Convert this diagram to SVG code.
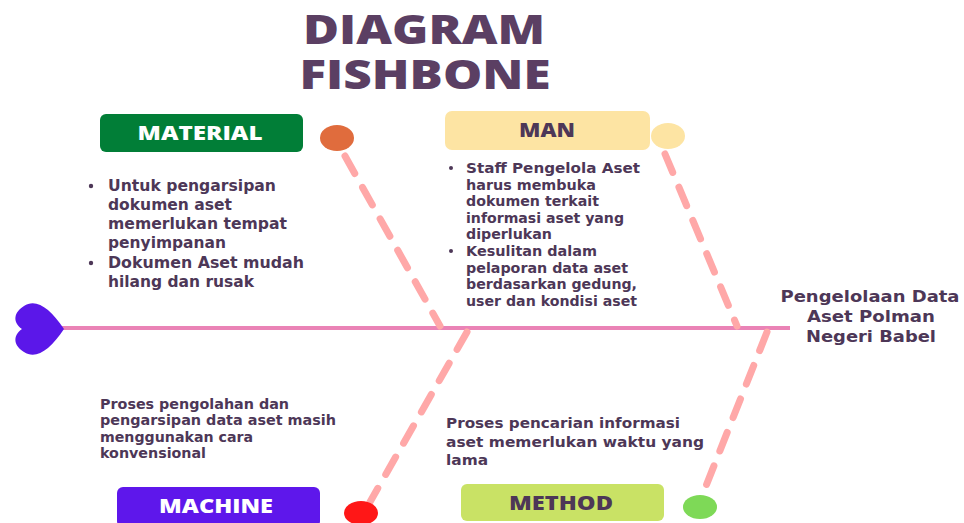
<svg xmlns="http://www.w3.org/2000/svg" width="964" height="523" viewBox="0 0 964 523">
  <style>
    text { }
    .title { font-family: "Open Sans", "DejaVu Sans", sans-serif; font-weight: 800; font-size: 41px; fill: #5b3f63; text-anchor: middle; }
    .label { font-family: "Open Sans", "DejaVu Sans", sans-serif; font-weight: 800; font-size: 19px; text-anchor: middle; }
    .body { font-family: "DejaVu Sans", "Open Sans", sans-serif; font-weight: 700; fill: #4d3757; }
    .head { font-family: "DejaVu Sans", "Open Sans", sans-serif; font-weight: 700; font-size: 15px; fill: #4d3757; text-anchor: middle; }
    .bone { fill: none; stroke: #ffa8a8; stroke-width: 7; stroke-linecap: round; stroke-dasharray: 20 16; }
    .spine { fill: none; stroke: #ea83b6; stroke-width: 4; }
    .dot { fill: #4d3757; }
  </style>

  <rect width="964" height="523" fill="#ffffff"/>

  <g id="title">
    <text class="title" x="424" y="44" textLength="242" lengthAdjust="spacingAndGlyphs">DIAGRAM</text>
    <text class="title" x="425" y="89" textLength="251" lengthAdjust="spacingAndGlyphs">FISHBONE</text>
  </g>

  <g id="connectors">
    <line class="spine" x1="50" y1="328" x2="790" y2="328"/>
    <line class="bone" x1="345" y1="156" x2="440" y2="326"/>
    <line class="bone" x1="665" y1="154" x2="737" y2="326"/>
    <line class="bone" x1="467" y1="332" x2="370" y2="502"/>
    <line class="bone" x1="767" y1="332" x2="702" y2="496"/>
  </g>

  <g id="head">
    <path d="M64 329 C 50 308, 36 298, 24 306 C 14 312, 12 322, 22 329 C 12 336, 14 346, 24 352 C 36 360, 50 350, 64 329 Z" fill="#5b17e9"/>
  </g>

  <g id="effect">
    <text class="head" x="870" y="302" textLength="179" lengthAdjust="spacingAndGlyphs">Pengelolaan Data</text>
    <text class="head" x="871" y="322" textLength="128" lengthAdjust="spacingAndGlyphs">Aset Polman</text>
    <text class="head" x="871" y="342" textLength="130" lengthAdjust="spacingAndGlyphs">Negeri Babel</text>
  </g>

  <g id="material">
    <rect x="100" y="114" width="203" height="38" rx="6" fill="#017e37"/>
    <text class="label" x="200" y="140" fill="#ffffff" textLength="125" lengthAdjust="spacingAndGlyphs">MATERIAL</text>
    <ellipse cx="337" cy="138" rx="17" ry="13" fill="#e06c3d"/>
    <g class="body" font-size="15">
      <circle class="dot" cx="91" cy="186" r="2.2"/>
      <text x="108" y="191" textLength="168" lengthAdjust="spacingAndGlyphs">Untuk pengarsipan</text>
      <text x="108" y="210" textLength="124" lengthAdjust="spacingAndGlyphs">dokumen aset</text>
      <text x="108" y="229" textLength="179" lengthAdjust="spacingAndGlyphs">memerlukan tempat</text>
      <text x="108" y="248" textLength="118" lengthAdjust="spacingAndGlyphs">penyimpanan</text>
      <circle class="dot" cx="91" cy="263" r="2.2"/>
      <text x="108" y="268" textLength="196" lengthAdjust="spacingAndGlyphs">Dokumen Aset mudah</text>
      <text x="108" y="287" textLength="146" lengthAdjust="spacingAndGlyphs">hilang dan rusak</text>
    </g>
  </g>

  <g id="man">
    <rect x="445" y="111" width="205" height="39" rx="7" fill="#fde4a3"/>
    <text class="label" x="547" y="137" fill="#4d3757" textLength="56" lengthAdjust="spacingAndGlyphs">MAN</text>
    <ellipse cx="668" cy="136" rx="17" ry="13" fill="#fde4a3"/>
    <g class="body" font-size="13.5">
      <circle class="dot" cx="451" cy="168" r="2"/>
      <text x="466" y="173" textLength="174" lengthAdjust="spacingAndGlyphs">Staff  Pengelola Aset</text>
      <text x="466" y="190" textLength="130" lengthAdjust="spacingAndGlyphs">harus membuka</text>
      <text x="466" y="206" textLength="133" lengthAdjust="spacingAndGlyphs">dokumen terkait</text>
      <text x="466" y="223" textLength="158" lengthAdjust="spacingAndGlyphs">informasi aset yang</text>
      <text x="466" y="239" textLength="86" lengthAdjust="spacingAndGlyphs">diperlukan</text>
      <circle class="dot" cx="451" cy="251" r="2"/>
      <text x="466" y="256" textLength="131" lengthAdjust="spacingAndGlyphs">Kesulitan dalam</text>
      <text x="466" y="273" textLength="162" lengthAdjust="spacingAndGlyphs">pelaporan data aset</text>
      <text x="466" y="289" textLength="171" lengthAdjust="spacingAndGlyphs">berdasarkan gedung,</text>
      <text x="466" y="306" textLength="171" lengthAdjust="spacingAndGlyphs">user dan kondisi aset</text>
    </g>
  </g>

  <g id="machine">
    <rect x="117" y="487" width="203" height="40" rx="6" fill="#5e17eb"/>
    <text class="label" x="216" y="513" fill="#ffffff" textLength="114" lengthAdjust="spacingAndGlyphs">MACHINE</text>
    <ellipse cx="361" cy="513" rx="17" ry="12" fill="#ff1717"/>
    <g class="body" font-size="13.5">
      <text x="100" y="409" textLength="189" lengthAdjust="spacingAndGlyphs">Proses pengolahan dan</text>
      <text x="100" y="425" textLength="236" lengthAdjust="spacingAndGlyphs">pengarsipan  data aset masih</text>
      <text x="100" y="442" textLength="153" lengthAdjust="spacingAndGlyphs">menggunakan cara</text>
      <text x="100" y="458" textLength="106" lengthAdjust="spacingAndGlyphs">konvensional</text>
    </g>
  </g>

  <g id="method">
    <rect x="461" y="484" width="203" height="37" rx="6" fill="#c9e265"/>
    <text class="label" x="561" y="510" fill="#4d3757" textLength="104" lengthAdjust="spacingAndGlyphs">METHOD</text>
    <ellipse cx="700" cy="507" rx="17" ry="12" fill="#7ed957"/>
    <g class="body" font-size="14.5">
      <text x="446" y="428" textLength="234" lengthAdjust="spacingAndGlyphs">Proses pencarian informasi</text>
      <text x="446" y="447" textLength="258" lengthAdjust="spacingAndGlyphs">aset memerlukan waktu yang</text>
      <text x="446" y="465" textLength="42" lengthAdjust="spacingAndGlyphs">lama</text>
    </g>
  </g>
</svg>
